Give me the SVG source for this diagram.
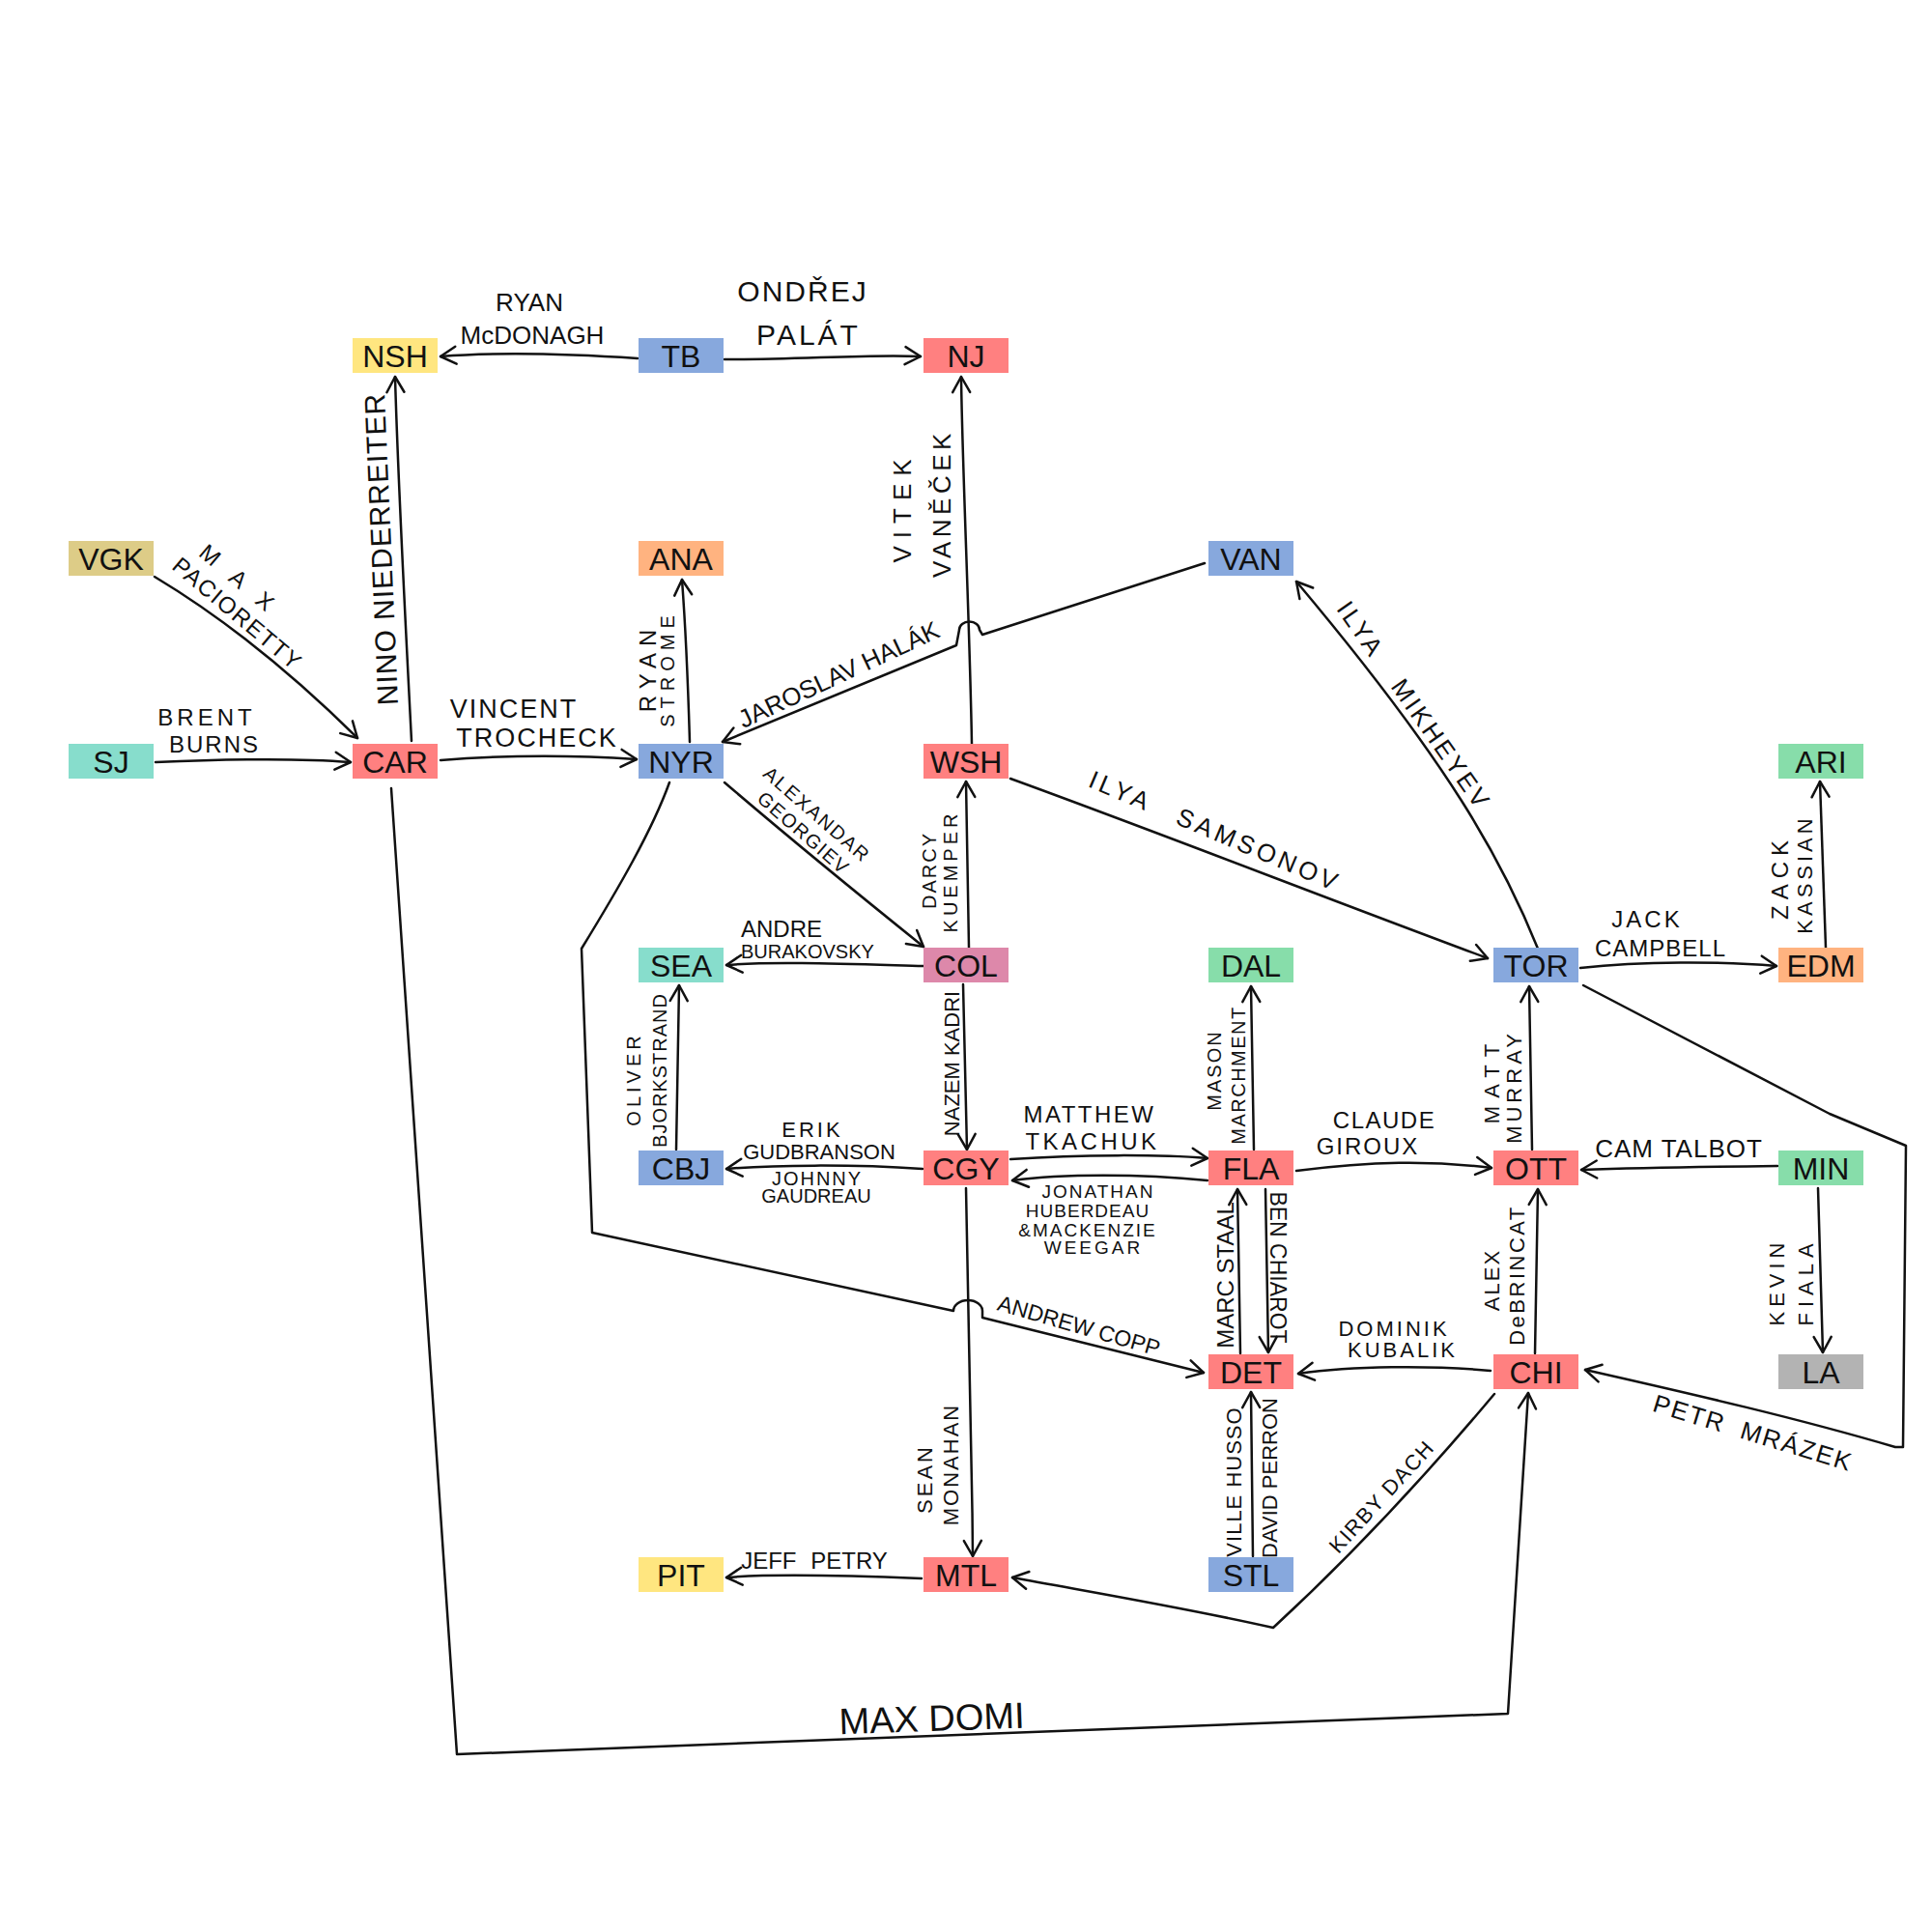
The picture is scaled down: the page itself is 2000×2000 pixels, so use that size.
<svg xmlns="http://www.w3.org/2000/svg" width="2000" height="2000" viewBox="0 0 2000 2000">
<style>
.bg{fill:#ffffff}
.box{stroke:none}
.red{fill:#FF8080}.blue{fill:#87A8DD}.yel{fill:#FFE680}.org{fill:#FFB380}
.teal{fill:#87DDCC}.grn{fill:#87DDAA}.kha{fill:#DDCC87}.mau{fill:#DD88AA}.gry{fill:#B3B3B3}
.nt{font-family:"Liberation Sans","DejaVu Sans",sans-serif;font-size:32px;fill:#111;text-anchor:middle}
.e{fill:none;stroke:#111;stroke-width:2.5;stroke-linecap:round;stroke-linejoin:round}
.a{marker-end:url(#arr)}
.l{font-family:"Liberation Sans","DejaVu Sans",sans-serif;fill:#111;text-anchor:middle}
.ls{text-anchor:start}
</style>
<defs>
<marker id="arr" viewBox="-18 -11 22 22" refX="0" refY="0" markerWidth="22" markerHeight="22" markerUnits="userSpaceOnUse" orient="auto">
<path d="M-16,-9 L0,0 L-16,9" fill="none" stroke="#111" stroke-width="2.5" stroke-linecap="round" stroke-linejoin="round"/>
</marker>
</defs>
<rect class="bg" x="0" y="0" width="2000" height="2000"/>

<g id="connectors">
<path class="e a" d="M660,371 C600,367 520,364 456,369"/>
<path class="e a" d="M750,372 C820,373 900,366 953,369"/>
<path class="e a" d="M426,767 C420,650 412,500 409,390"/>
<path class="e a" d="M160,597 Q265,660 370,764"/>
<path class="e a" d="M161,789 C230,786 300,784 363,789"/>
<path class="e a" d="M456,787 C530,781 600,782 659,786"/>
<path class="e a" d="M714,768 C712,700 709,640 706,600"/>
<path class="e a" d="M1247,583 L1017,657 L1014,652 A10,8 0 0 0 993,652 L990,668 L748,768"/>
<path class="e a" d="M750,810 C820,870 900,935 956,980"/>
<path class="e a" d="M1006,770 C1004,650 996,480 995,390"/>
<path class="e a" d="M1046,806 C1200,862 1360,925 1540,992"/>
<path class="e a" d="M1003,981 L1000,809"/>
<path class="e a" d="M956,1000 C880,998 800,995 752,999"/>
<path class="e a" d="M997,1019 L1001,1190"/>
<path class="e a" d="M700,1190 L703,1020"/>
<path class="e a" d="M955,1210 C880,1205 800,1206 752,1210"/>
<path class="e a" d="M1046,1200 C1120,1195 1200,1195 1250,1199"/>
<path class="e a" d="M1250,1222 C1180,1215 1100,1215 1048,1222"/>
<path class="e a" d="M1298,1190 L1295,1021"/>
<path class="e a" d="M1342,1212 C1420,1202 1480,1201 1544,1209"/>
<path class="e a" d="M1586,1190 L1583,1021"/>
<path class="e a" d="M1636,1002 C1700,995 1780,995 1839,1000"/>
<path class="e a" d="M1890,981 L1884,809"/>
<path class="e a" d="M1592,982 C1555,890 1500,790 1342,602"/>
<path class="e a" d="M1840,1207 C1760,1208 1700,1209 1637,1211"/>
<path class="e a" d="M1882,1230 C1884,1300 1886,1350 1887,1400"/>
<path class="e a" d="M1639,1020 L1894,1153 L1973,1186 L1970,1498 L1962,1498 C1860,1468 1760,1445 1641,1418"/>
<path class="e a" d="M1543,1419 C1480,1413 1400,1414 1344,1422"/>
<path class="e a" d="M1310,1231 L1313,1400"/>
<path class="e a" d="M1284,1401 L1281,1231"/>
<path class="e a" d="M1297,1611 L1295,1441"/>
<path class="e a" d="M1589,1401 L1592,1231"/>
<path class="e a" d="M1547,1443 Q1432,1580 1318,1685 C1230,1665 1140,1650 1048,1633"/>
<path class="e a" d="M1000,1230 C1004,1400 1006,1500 1007,1611"/>
<path class="e a" d="M954,1634 C880,1631 800,1629 752,1633"/>
<path class="e a" d="M693,810 C675,860 640,920 602,982 L613,1276 L987,1357 A15,11 0 0 1 1017,1357 L1017,1364 L1246,1421"/>
<path class="e a" d="M405,816 L473,1816 L1561,1774 L1582,1442"/>
</g>

<g id="edge-labels">
<text class="l" x="548" y="322" font-size="26">RYAN</text>
<text class="l" x="551" y="356" font-size="26">McDONAGH</text>
<text class="l" x="831" y="312" font-size="30" letter-spacing="2">ONDŘEJ</text>
<text class="l" x="837" y="357" font-size="30" letter-spacing="3">PALÁT</text>
<text class="l" transform="translate(405,568) rotate(-92.5)" font-size="30" letter-spacing="1">NINO NIEDERREITER</text>
<text class="l" transform="translate(253,604) rotate(40)" y="8.6" font-size="24" letter-spacing="20">MAX</text>
<text class="l" transform="translate(246,635) rotate(40)" y="8.6" font-size="24" letter-spacing="1.5">PACIORETTY</text>
<text class="l" x="214" y="751" font-size="24" letter-spacing="4">BRENT</text>
<text class="l" x="222" y="779" font-size="24" letter-spacing="2">BURNS</text>
<text class="l" x="532" y="743" font-size="27" letter-spacing="2">VINCENT</text>
<text class="l" x="556" y="773" font-size="27" letter-spacing="2">TROCHECK</text>
<text class="l" transform="translate(679,691) rotate(-90)" font-size="24" letter-spacing="7">RYAN</text>
<text class="l" transform="translate(698,692) rotate(-90)" font-size="20" letter-spacing="6">STROME</text>
<text class="l" transform="translate(868,698) rotate(-25)" y="9.4" font-size="26">JAROSLAV HALÁK</text>
<text class="l" transform="translate(943,525) rotate(-90)" font-size="26" letter-spacing="8">VITEK</text>
<text class="l" transform="translate(984,521) rotate(-90)" font-size="26" letter-spacing="4.5">VANĚČEK</text>
<text class="l" transform="translate(846,843) rotate(41)" y="7.2" font-size="20" letter-spacing="2">ALEXANDAR</text>
<text class="l" transform="translate(832,862) rotate(41)" y="7.2" font-size="20" letter-spacing="1.5">GEORGIEV</text>
<text class="l" transform="translate(1258,860) rotate(23)" y="9.4" font-size="26" letter-spacing="4" word-spacing="20">ILYA SAMSONOV</text>
<text class="l" transform="translate(1464,730) rotate(55)" y="9.4" font-size="26" letter-spacing="3" word-spacing="25">ILYA MIKHEYEV</text>
<text class="l" transform="translate(969,901) rotate(-90)" font-size="20" letter-spacing="2">DARCY</text>
<text class="l" transform="translate(991,902) rotate(-90)" font-size="20" letter-spacing="4">KUEMPER</text>
<text class="l ls" x="767" y="970" font-size="24">ANDRE</text>
<text class="l ls" x="767" y="992" font-size="20">BURAKOVSKY</text>
<text class="l" transform="translate(993,1101) rotate(-90)" font-size="22">NAZEM KADRI</text>
<text class="l" transform="translate(663,1117) rotate(-90)" font-size="20" letter-spacing="4">OLIVER</text>
<text class="l" transform="translate(690,1108) rotate(-90)" font-size="20" letter-spacing="1">BJORKSTRAND</text>
<text class="l" x="841" y="1177" font-size="22" letter-spacing="3">ERIK</text>
<text class="l" x="848" y="1200" font-size="22">GUDBRANSON</text>
<text class="l" x="846" y="1227" font-size="20" letter-spacing="2">JOHNNY</text>
<text class="l" x="845" y="1245" font-size="20">GAUDREAU</text>
<text class="l" x="1128" y="1162" font-size="24" letter-spacing="2.5">MATTHEW</text>
<text class="l" x="1131" y="1190" font-size="24" letter-spacing="3.5">TKACHUK</text>
<text class="l" x="1137" y="1240" font-size="19" letter-spacing="2">JONATHAN</text>
<text class="l" x="1126" y="1260" font-size="19" letter-spacing="1">HUBERDEAU</text>
<text class="l" x="1126" y="1280" font-size="19" letter-spacing="2">&amp;MACKENZIE</text>
<text class="l" x="1132" y="1298" font-size="19" letter-spacing="3">WEEGAR</text>
<text class="l" transform="translate(1264,1108) rotate(-90)" font-size="20" letter-spacing="2">MASON</text>
<text class="l" transform="translate(1289,1113) rotate(-90)" font-size="20" letter-spacing="1.5">MARCHMENT</text>
<text class="l" x="1433" y="1168" font-size="24" letter-spacing="1.5">CLAUDE</text>
<text class="l" x="1416" y="1195" font-size="24" letter-spacing="2">GIROUX</text>
<text class="l" transform="translate(1552,1118) rotate(-90)" font-size="22" letter-spacing="8">MATT</text>
<text class="l" transform="translate(1575,1125) rotate(-90)" font-size="22" letter-spacing="4">MURRAY</text>
<text class="l" x="1705" y="960" font-size="24" letter-spacing="3">JACK</text>
<text class="l" x="1719" y="990" font-size="24" letter-spacing="1">CAMPBELL</text>
<text class="l" transform="translate(1851,908) rotate(-90)" font-size="24" letter-spacing="6">ZACK</text>
<text class="l" transform="translate(1876,905) rotate(-90)" font-size="22" letter-spacing="4">KASSIAN</text>
<text class="l" x="1738" y="1198" font-size="26" letter-spacing="1">CAM TALBOT</text>
<text class="l" transform="translate(1847,1327) rotate(-90)" font-size="22" letter-spacing="5">KEVIN</text>
<text class="l" transform="translate(1877,1327) rotate(-90)" font-size="22" letter-spacing="6">FIALA</text>
<text class="l" transform="translate(1815,1483) rotate(17)" y="9.4" font-size="26" letter-spacing="2" word-spacing="8">PETR MRÁZEK</text>
<text class="l" x="1443" y="1383" font-size="22" letter-spacing="3">DOMINIK</text>
<text class="l" x="1452" y="1405" font-size="22" letter-spacing="3">KUBALIK</text>
<text class="l" transform="translate(1315,1312) rotate(90)" font-size="23">BEN CHIAROT</text>
<text class="l" transform="translate(1277,1320) rotate(-90)" font-size="24">MARC STAAL</text>
<text class="l" transform="translate(1285,1534) rotate(-90)" font-size="22" letter-spacing="1">VILLE HUSSO</text>
<text class="l" transform="translate(1322,1530) rotate(-90)" font-size="22">DAVID PERRON</text>
<text class="l" transform="translate(1552,1325) rotate(-90)" font-size="22" letter-spacing="2">ALEX</text>
<text class="l" transform="translate(1578,1320) rotate(-90)" font-size="22" letter-spacing="2.5">DeBRINCAT</text>
<text class="l" transform="translate(1430,1549) rotate(-47.6)" y="7.9" font-size="22" letter-spacing="1.5">KIRBY DACH</text>
<text class="l" transform="translate(965,1531) rotate(-90)" font-size="22" letter-spacing="3">SEAN</text>
<text class="l" transform="translate(992,1516) rotate(-90)" font-size="22" letter-spacing="2">MONAHAN</text>
<text class="l" x="843" y="1624" font-size="24" word-spacing="8">JEFF PETRY</text>
<text class="l" transform="translate(1117,1372) rotate(16)" y="8.3" font-size="23">ANDREW COPP</text>
<text class="l" transform="translate(965,1792) rotate(-2)" font-size="38">MAX DOMI</text>
</g>

<g id="node-NSH"><rect class="box yel" x="365" y="350" width="88" height="36"/><text class="nt" x="409" y="380">NSH</text></g>
<g id="node-TB"><rect class="box blue" x="661" y="350" width="88" height="36"/><text class="nt" x="705" y="380">TB</text></g>
<g id="node-NJ"><rect class="box red" x="956" y="350" width="88" height="36"/><text class="nt" x="1000" y="380">NJ</text></g>
<g id="node-VGK"><rect class="box kha" x="71" y="560" width="88" height="36"/><text class="nt" x="115" y="590">VGK</text></g>
<g id="node-ANA"><rect class="box org" x="661" y="560" width="88" height="36"/><text class="nt" x="705" y="590">ANA</text></g>
<g id="node-VAN"><rect class="box blue" x="1251" y="560" width="88" height="36"/><text class="nt" x="1295" y="590">VAN</text></g>
<g id="node-SJ"><rect class="box teal" x="71" y="770" width="88" height="36"/><text class="nt" x="115" y="800">SJ</text></g>
<g id="node-CAR"><rect class="box red" x="365" y="770" width="88" height="36"/><text class="nt" x="409" y="800">CAR</text></g>
<g id="node-NYR"><rect class="box blue" x="661" y="770" width="88" height="36"/><text class="nt" x="705" y="800">NYR</text></g>
<g id="node-WSH"><rect class="box red" x="956" y="770" width="88" height="36"/><text class="nt" x="1000" y="800">WSH</text></g>
<g id="node-ARI"><rect class="box grn" x="1841" y="770" width="88" height="36"/><text class="nt" x="1885" y="800">ARI</text></g>
<g id="node-SEA"><rect class="box teal" x="661" y="981" width="88" height="36"/><text class="nt" x="705" y="1011">SEA</text></g>
<g id="node-COL"><rect class="box mau" x="956" y="981" width="88" height="36"/><text class="nt" x="1000" y="1011">COL</text></g>
<g id="node-DAL"><rect class="box grn" x="1251" y="981" width="88" height="36"/><text class="nt" x="1295" y="1011">DAL</text></g>
<g id="node-TOR"><rect class="box blue" x="1546" y="981" width="88" height="36"/><text class="nt" x="1590" y="1011">TOR</text></g>
<g id="node-EDM"><rect class="box org" x="1841" y="981" width="88" height="36"/><text class="nt" x="1885" y="1011">EDM</text></g>
<g id="node-CBJ"><rect class="box blue" x="661" y="1191" width="88" height="36"/><text class="nt" x="705" y="1221">CBJ</text></g>
<g id="node-CGY"><rect class="box red" x="956" y="1191" width="88" height="36"/><text class="nt" x="1000" y="1221">CGY</text></g>
<g id="node-FLA"><rect class="box red" x="1251" y="1191" width="88" height="36"/><text class="nt" x="1295" y="1221">FLA</text></g>
<g id="node-OTT"><rect class="box red" x="1546" y="1191" width="88" height="36"/><text class="nt" x="1590" y="1221">OTT</text></g>
<g id="node-MIN"><rect class="box grn" x="1841" y="1191" width="88" height="36"/><text class="nt" x="1885" y="1221">MIN</text></g>
<g id="node-DET"><rect class="box red" x="1251" y="1402" width="88" height="36"/><text class="nt" x="1295" y="1432">DET</text></g>
<g id="node-CHI"><rect class="box red" x="1546" y="1402" width="88" height="36"/><text class="nt" x="1590" y="1432">CHI</text></g>
<g id="node-LA"><rect class="box gry" x="1841" y="1402" width="88" height="36"/><text class="nt" x="1885" y="1432">LA</text></g>
<g id="node-PIT"><rect class="box yel" x="661" y="1612" width="88" height="36"/><text class="nt" x="705" y="1642">PIT</text></g>
<g id="node-MTL"><rect class="box red" x="956" y="1612" width="88" height="36"/><text class="nt" x="1000" y="1642">MTL</text></g>
<g id="node-STL"><rect class="box blue" x="1251" y="1612" width="88" height="36"/><text class="nt" x="1295" y="1642">STL</text></g>
</svg>
